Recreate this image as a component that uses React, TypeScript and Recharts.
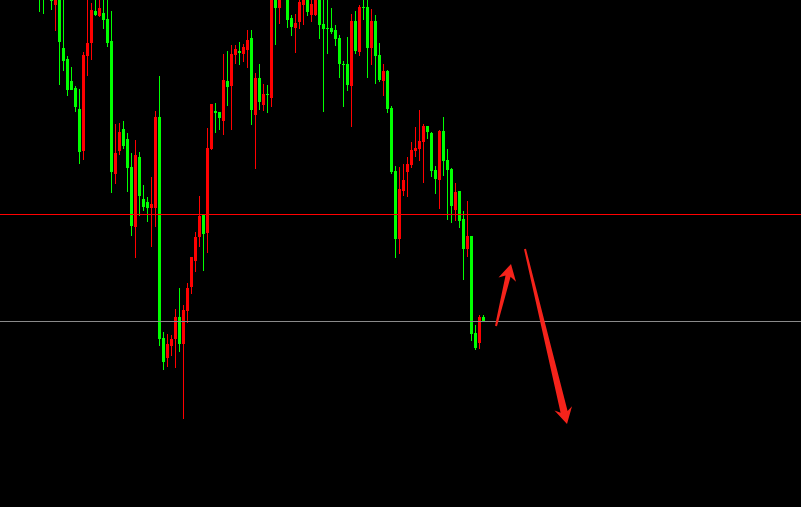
import { ComposedChart, Bar, XAxis, YAxis, ReferenceLine } from 'recharts';

// OHLC, one entry per bar (oldest first)
const opens = [
  1030, 1025, 1030, 1012, 995, 1006, 952, 941, 919, 912, 891, 849, 944, 957, 989, 984, 987, 981, 959, 826,
  849, 871, 861, 833, 773, 843, 801, 798, 792, 792, 883, 662, 642, 654, 661, 683, 656, 689, 713, 739,
  763, 785, 767, 851, 889, 888, 879, 919, 914, 945, 949, 946, 950, 962, 885, 922, 895, 906, 902, 1005,
  992, 1030, 1002, 982, 972, 978, 995, 1002, 985, 985, 1002, 976, 972, 972, 970, 962, 936, 936, 914, 979,
  948, 993, 993, 952, 979, 945, 919, 929, 892, 829, 761, 809, 828, 835, 849, 851, 858, 874, 867, 830,
  820, 869, 840, 831, 790, 809, 781, 751, 764, 667, 657, 683,
];
const highs = [
  1040, 1035, 1050, 1020, 1015, 1010, 1005, 944, 933, 914, 911, 948, 1002, 997, 1002, 1001, 1002, 1003, 989, 876,
  877, 879, 867, 847, 860, 848, 815, 803, 823, 889, 924, 668, 666, 665, 691, 712, 695, 717, 743, 768,
  804, 785, 872, 896, 897, 888, 946, 949, 955, 955, 958, 956, 970, 970, 927, 936, 916, 915, 1010, 1010,
  1008, 1040, 1005, 985, 986, 1000, 1006, 1005, 1001, 1008, 1005, 1003, 1002, 992, 975, 965, 939, 963, 986, 989,
  995, 1001, 1002, 991, 985, 957, 936, 930, 894, 834, 833, 836, 843, 858, 873, 890, 876, 874, 868, 834,
  870, 883, 851, 832, 817, 809, 789, 799, 764, 675, 685, 685,
];
const lows = [
  988, 986, 1004, 990, 969, 915, 929, 904, 910, 888, 836, 840, 924, 940, 984, 983, 971, 953, 807, 816,
  845, 851, 808, 764, 742, 784, 789, 778, 753, 773, 654, 630, 633, 644, 632, 648, 581, 677, 706, 728,
  753, 729, 747, 850, 867, 870, 865, 894, 870, 936, 935, 938, 932, 875, 831, 890, 889, 887, 893, 955,
  976, 1008, 972, 964, 947, 971, 975, 984, 978, 984, 961, 888, 946, 966, 954, 922, 893, 909, 873, 946,
  944, 980, 922, 935, 916, 918, 904, 887, 826, 742, 746, 804, 803, 832, 843, 839, 817, 861, 823, 806,
  791, 824, 780, 777, 779, 772, 720, 743, 659, 650, 651, 679,
];
const closes = [
  1005, 1003, 1010, 999, 1008, 958, 939, 910, 910, 893, 848, 945, 957, 990, 985, 992, 980, 957, 828, 847,
  868, 854, 832, 774, 845, 804, 793, 792, 796, 883, 661, 638, 656, 661, 683, 656, 690, 712, 743, 763,
  784, 766, 852, 896, 887, 882, 920, 913, 946, 951, 947, 953, 960, 890, 922, 898, 906, 905, 1005, 992,
  1003, 1015, 980, 973, 977, 998, 1003, 988, 996, 1003, 975, 971, 971, 968, 961, 936, 935, 915, 979, 949,
  993, 992, 952, 979, 944, 920, 929, 891, 828, 761, 811, 820, 836, 850, 852, 859, 874, 868, 829, 821,
  869, 839, 830, 794, 808, 779, 751, 764, 666, 652, 683, 679,
];

// horizontal levels
const resistance = 785.5;
const support = 678.5;

// hand-drawn arrows, [bar index, price]
const arrowUp: [number, number][] = [[114, 674], [117.75, 736]];
const arrowDown: [number, number][] = [[121.25, 751], [131.75, 576]];

const UP = '#ff0000';
const DOWN = '#00ff00';

const candles = opens.map((open, i) => ({
  i,
  open,
  high: highs[i],
  low: lows[i],
  close: closes[i],
  range: [lows[i], highs[i]],
}));

const Candle = (props: any) => {
  const { x, y, width, height, payload } = props;
  const { open, close, high, low } = payload;
  const color = close > open ? UP : DOWN;
  const top = Math.min(y, y + height);
  const h = Math.abs(height);
  const toPx = (v: number) => top + ((high - v) / (high - low)) * h;
  const cx = Math.floor(x + width / 2);
  const bodyTop = Math.round(toPx(Math.max(open, close)));
  const bodyBottom = Math.round(toPx(Math.min(open, close)));
  return (
    <g shapeRendering="crispEdges">
      <rect x={cx} y={Math.round(top)} width={1} height={Math.max(1, Math.round(top + h) - Math.round(top))} fill={color} />
      <rect x={cx - 1} y={bodyTop} width={3} height={Math.max(1, bodyBottom - bodyTop)} fill={color} />
    </g>
  );
};

// tapered arrow with a swept-back head
const arrowShape = (neck: number) => (props: any) => {
  const { x1, y1, x2, y2 } = props;
  const dx = x2 - x1;
  const dy = y2 - y1;
  const len = Math.hypot(dx, dy);
  const ux = dx / len;
  const uy = dy / len;
  const nx = -uy;
  const ny = ux;
  const headLen = 16;
  const headHalf = 9;
  const neckAt = headLen * 0.78;
  const pt = (along: number, side: number) =>
    `${x1 + ux * along + nx * side},${y1 + uy * along + ny * side}`;
  const points = [
    pt(0, -1),
    pt(len - neckAt, -neck),
    pt(len - headLen, -headHalf),
    pt(len, 0),
    pt(len - headLen, headHalf),
    pt(len - neckAt, neck),
    pt(0, 1),
  ].join(' ');
  return <polygon points={points} fill="#f5231b" />;
};

export default function App() {
  return (
    <div style={{ position: 'absolute', left: 0, top: 0, width: 801, height: 507, background: '#000' }}>
      <ComposedChart width={801} height={507} data={candles} margin={{ top: 0, right: 0, bottom: 0, left: 0 }}>
        <XAxis dataKey="i" type="number" domain={[-10, 190.25]} hide />
        <YAxis type="number" domain={[493, 1000]} allowDataOverflow hide />
        <Bar dataKey="range" barSize={3} shape={<Candle />} isAnimationActive={false} />
        <ReferenceLine y={resistance} stroke="#ff0000" strokeWidth={1} />
        <ReferenceLine y={support} stroke="#8a8a8a" strokeWidth={1} />
        <ReferenceLine
          segment={[{ x: arrowUp[0][0], y: arrowUp[0][1] }, { x: arrowUp[1][0], y: arrowUp[1][1] }]}
          shape={arrowShape(2.6)}
        />
        <ReferenceLine
          segment={[{ x: arrowDown[0][0], y: arrowDown[0][1] }, { x: arrowDown[1][0], y: arrowDown[1][1] }]}
          shape={arrowShape(3.6)}
        />
      </ComposedChart>
    </div>
  );
}
